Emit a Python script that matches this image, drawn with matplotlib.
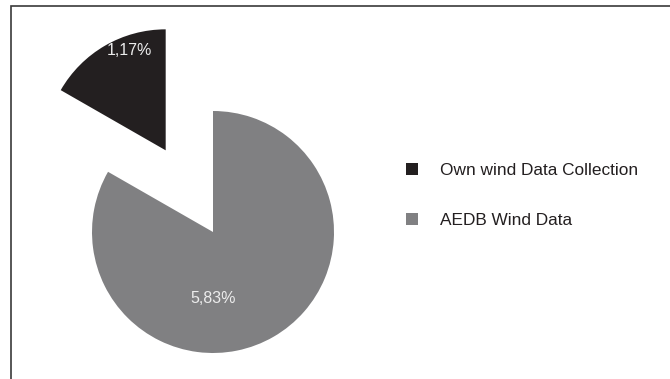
import matplotlib
matplotlib.use('Agg')
import matplotlib.pyplot as plt
from matplotlib.patches import Rectangle
import numpy as np

plt.rcParams['font.family'] = ['Liberation Sans', 'DejaVu Sans']

# data
labels = ['Own wind Data Collection', 'AEDB Wind Data']
values = [1.17, 5.83]
colors = ['#231f20', '#808082']
explode_frac = [0.78, 0.0]   # fraction of radius

W, H = 670, 379
fig = plt.figure(figsize=(W / 100, H / 100), dpi=100)

# outer frame (only left/top visible in the original)
fig.patches.append(Rectangle((11 / W, -0.2), 1.2, 1.2 - 6 / H,
                             transform=fig.transFigure, fill=False,
                             edgecolor='#3a3a3a', linewidth=1.2))

# plot area in pixel units, left edge clips the exploded slice
left = 65
ax = fig.add_axes([left / W, 0, 1 - left / W, 1])

cx, cy, r = 213, H - 232, 121
total = sum(values)
wedges, texts, autotexts = ax.pie(
    values, colors=colors, explode=[e * r for e in explode_frac],
    startangle=90, center=(cx, cy), radius=r, frame=True,
    autopct=lambda p: f'{p * total / 100:.2f}%'.replace('.', ','),
    textprops=dict(color='#ececec', fontsize=11.5),
    wedgeprops=dict(linewidth=0, edgecolor='none'))
ax.set_xlim(left, W)
ax.set_ylim(0, H)
ax.set_aspect('equal')
ax.axis('off')

# label placement like the original (Excel style)
lab_pos = [(110, 0.88), (270, 0.55)]
for w, t, (ang, d) in zip(wedges, autotexts, lab_pos):
    wc = w.center
    a = np.deg2rad(ang)
    t.set_position((wc[0] + d * r * np.cos(a), wc[1] + d * r * np.sin(a)))
    t.set_ha('center')
    t.set_va('center')

leg = fig.legend(wedges, labels, loc='upper left',
                 bbox_to_anchor=(406 / W, 1 - 163 / H),
                 frameon=False, fontsize=12.4, handlelength=0.7,
                 handleheight=0.7, handletextpad=1.25, labelspacing=2.0,
                 borderaxespad=0, borderpad=0)
for t in leg.get_texts():
    t.set_color('#231f20')

fig.savefig('out.png', dpi=100)
